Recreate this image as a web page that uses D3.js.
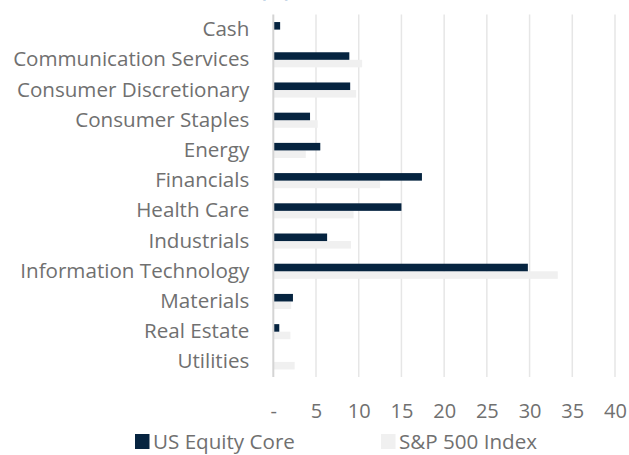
<!DOCTYPE html>
<html>
<head>
<meta charset="utf-8">
<script src="https://cdn.jsdelivr.net/npm/d3@7"></script>
<style>
  body { margin: 0; background: #fff; }
  svg text { font-family: "Open Sans", Lato, sans-serif; fill: #707070; }
</style>
</head>
<body>
<svg id="drawing_region"></svg>
<script>
const sectors = ["Cash", "Communication Services", "Consumer Discretionary", "Consumer Staples",
    "Energy", "Financials", "Health Care", "Industrials", "Information Technology",
    "Materials", "Real Estate", "Utilities"];
const core = [0.8, 8.9, 9.0, 4.3, 5.5, 17.4, 15.0, 6.3, 29.8, 2.3, 0.7, 0];
const spx = [0, 10.4, 9.7, 5.2, 3.8, 12.5, 9.4, 9.1, 33.3, 2.1, 2.0, 2.5];
const xticks = [0, 5, 10, 15, 20, 25, 30, 35, 40];
const seriesNames = ["US Equity Core", "S&P 500 Index"];
const colors = ["#062440", "#f0f0f0"];

const width = 629, height = 455;
const margin = {top: 14.5, right: 14, bottom: 78, left: 273.3};
const inner_width = width - margin.left - margin.right;
const inner_height = height - margin.top - margin.bottom;
const fontSize = '20.6px';

const svg = d3.select('#drawing_region')
    .attr('width', width)
    .attr('height', height);

// title, cut off at the top edge
svg.append('text')
    .attr('x', 291)
    .attr('y', -3)
    .attr('text-anchor', 'end')
    .style('font-weight', 'bold')
    .style('font-size', '20px')
    .style('fill', '#1565a8')
    .text('Sector Allocation (%)');

const chart = svg.append('g')
    .attr('transform', `translate(${margin.left}, ${margin.top})`);

const xscale = d3.scaleLinear().domain([0, 40]).range([0, inner_width]);
const yscale = d3.scaleBand().domain(sectors).range([0, inner_height]).paddingInner(0.5).paddingOuter(0.25);
const sub = d3.scaleBand().domain([0, 1]).range([0, yscale.bandwidth()]);

// gridlines
chart.selectAll('.grid')
    .data(xticks.slice(1))
    .enter()
    .append('line')
    .attr('x1', d => xscale(d)).attr('x2', d => xscale(d))
    .attr('y1', 0).attr('y2', inner_height)
    .attr('stroke', '#e6e6e6')
    .attr('stroke-width', 1.5);

const rows = chart.selectAll('.row')
    .data(sectors)
    .enter()
    .append('g')
    .attr('transform', d => `translate(0, ${yscale(d)})`);

rows.append('rect')
    .attr('x', 0)
    .attr('y', (d, i) => sub(1))
    .attr('width', (d, i) => xscale(spx[i]))
    .attr('height', sub.bandwidth())
    .attr('fill', colors[1]);

rows.append('rect')
    .attr('x', 0)
    .attr('y', (d, i) => sub(0))
    .attr('width', (d, i) => xscale(core[i]))
    .attr('height', sub.bandwidth())
    .attr('fill', colors[0]);

// zero axis
chart.append('line')
    .attr('x1', 0).attr('x2', 0)
    .attr('y1', 0).attr('y2', inner_height)
    .attr('stroke', '#d4d4d4')
    .attr('stroke-width', 2);

// category labels
const yaxis = d3.axisLeft(yscale).tickSize(0).tickPadding(24);
const yaxis_group = chart.append('g').call(yaxis);
yaxis_group.select('.domain').remove();
yaxis_group.selectAll('text').style('font-size', fontSize).attr('font-family', null);

// value axis
const xaxis = d3.axisBottom(xscale)
    .tickValues(xticks)
    .tickSize(0)
    .tickPadding(27)
    .tickFormat(d => d === 0 ? '-' : d);
const xaxis_group = chart.append('g')
    .attr('transform', `translate(0, ${inner_height})`)
    .call(xaxis);
xaxis_group.select('.domain').remove();
xaxis_group.selectAll('text').style('font-size', '20px').attr('font-family', null);

// legend
const legend = svg.append('g');
const legendX = [135, 381];
seriesNames.forEach((name, i) => {
    legend.append('rect')
        .attr('x', legendX[i]).attr('y', 434)
        .attr('width', 14.5).attr('height', 15)
        .attr('fill', colors[i]);
    legend.append('text')
        .attr('x', legendX[i] + 18).attr('y', 441.5)
        .attr('dy', '0.35em')
        .style('font-size', fontSize)
        .text(name);
});
</script>
</body>
</html>
